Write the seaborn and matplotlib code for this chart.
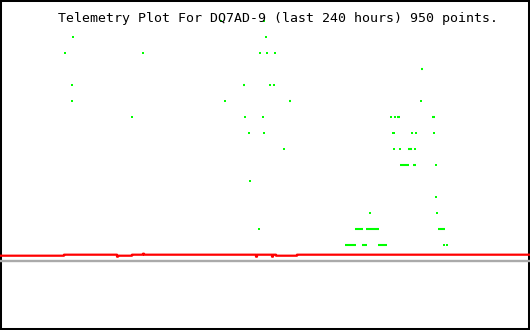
import numpy as np
import pandas as pd
import matplotlib
matplotlib.use("Agg")
import matplotlib.pyplot as plt
import seaborn as sns

sns.set_style("white")
plt.rcParams['font.family'] = ['DejaVu Sans Mono', 'DejaVu Sans']

TITLE = "Telemetry Plot For DQ7AD-9 (last 240 hours) 950 points."

# single green samples: hour, level
pt_hours = [99.85, 119.77,
            33.28, 120.23,
            29.66, 64.98, 117.51, 121.13, 124.75,
            32.83, 122.49, 124.30,
            32.38, 102.11, 190.42,
            59.55, 110.72, 118.87, 177.28, 179.09,
            112.98, 119.77, 177.74, 178.64, 186.79, 188.60, 196.75,
            128.83, 178.19, 180.91, 188.15,
            197.21,
            113.43,
            197.66,
            167.77, 198.11,
            117.06,
            201.28, 202.19]
pt_level = [14, 14,
            13, 13,
            12, 12, 12, 12, 12,
            10, 10, 10,
            9, 9, 9,
            8, 8, 8, 8, 8,
            7, 7, 7, 7, 7, 7, 7,
            6, 6, 6, 6,
            5,
            4,
            3,
            2, 2,
            1,
            0, 0]

# dense runs of green samples: start hour, end hour, level
run_start = [190.64, 110.04, 130.87, 179.77, 195.62, 184.75, 181.13, 187.02,
             160.75, 165.74, 168.00, 198.34, 156.23, 163.92, 171.17]
run_end = [191.55, 110.94, 131.77, 181.13, 196.98, 186.57, 185.21, 188.38,
           164.38, 168.00, 171.62, 201.51, 161.21, 166.19, 175.25]
run_level = [11, 10, 9, 8, 8, 6, 5, 5,
             1, 1, 1, 1, 0, 0, 0]

# red trace (step changes)
red_hours = [0.0, 28.98, 52.98, 53.43, 59.77, 64.75, 65.21, 115.92, 116.38,
             123.17, 123.62, 124.98, 134.49, 240.0]
red_value = [-0.669, -0.606, -0.73, -0.669, -0.606, -0.544, -0.606, -0.73, -0.606,
             -0.73, -0.606, -0.669, -0.606, -0.606]

# gray baseline
base_hours = [0.0, 240.0]
base_value = [-1.0, -1.0]

fig = plt.figure(figsize=(5.3, 3.3), dpi=100)
ax = fig.add_axes([0, 0, 1, 1])
ax.set_xlim(0, 240)
ax.set_ylim(-85 / 16, 245 / 16)

pts = pd.DataFrame({"hour": pt_hours, "level": pt_level})
rect = [(-0.5, -1), (0.5, -1), (0.5, 1), (-0.5, 1)]
sns.scatterplot(data=pts, x="hour", y="level", ax=ax, marker=rect, s=3.0,
                color="#00ff00", linewidth=0, legend=False, zorder=2)
ax.hlines(run_level, run_start, run_end, colors="#00ff00", linewidth=1.5,
          capstyle="butt", zorder=2, snap=False)

sns.lineplot(x=base_hours, y=base_value, ax=ax, color="#aaaaaa", linewidth=1.7,
             estimator=None, sort=False, zorder=3, snap=False)
sns.lineplot(x=red_hours, y=red_value, ax=ax, color="#ff0000", linewidth=1.6,
             estimator=None, sort=False, drawstyle="steps-post", zorder=4,
             snap=False)

ax.set_xticks([])
ax.set_yticks([])
ax.set_xlabel("")
ax.set_ylabel("")
for sp in ax.spines.values():
    sp.set_visible(True)
    sp.set_color("black")
    sp.set_linewidth(2.9)

fig.text(58 / 530, 1 - 22 / 330, TITLE, fontsize=9.5, color="black",
         ha="left", va="baseline", zorder=1)

fig.savefig("out.png", dpi=100, facecolor="white")
